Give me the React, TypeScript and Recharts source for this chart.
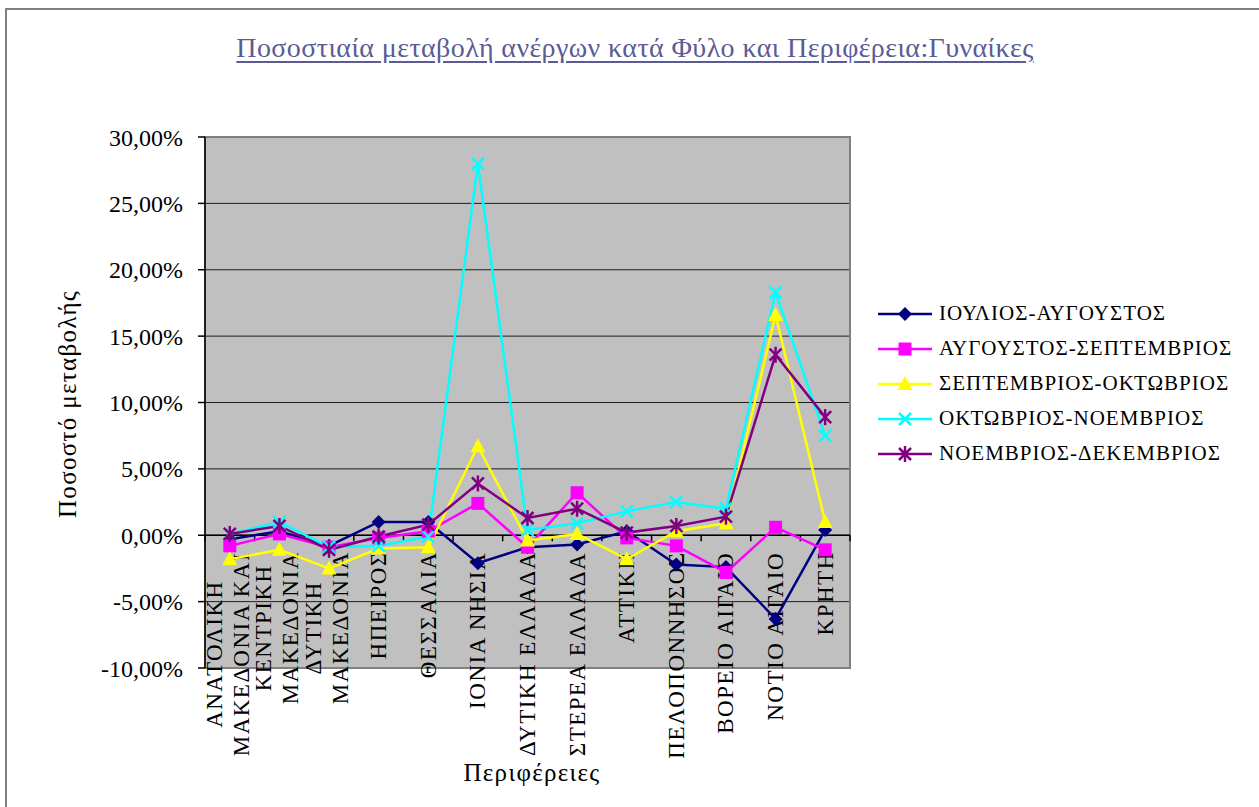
import { LineChart, Line, XAxis, YAxis, CartesianGrid, ReferenceLine, ReferenceArea } from "recharts";

// Regions (label lines as shown on the category axis)
const regions = [
  ["ΑΝΑΤΟΛΙΚΗ", "ΜΑΚΕΔΟΝΙΑ ΚΑΙ"],
  ["ΚΕΝΤΡΙΚΗ", "ΜΑΚΕΔΟΝΙΑ"],
  ["ΔΥΤΙΚΗ", "ΜΑΚΕΔΟΝΙΑ"],
  ["ΗΠΕΙΡΟΣ"],
  ["ΘΕΣΣΑΛΙΑ"],
  ["ΙΟΝΙΑ ΝΗΣΙΑ"],
  ["ΔΥΤΙΚΗ ΕΛΛΑΔΑ"],
  ["ΣΤΕΡΕΑ ΕΛΛΑΔΑ"],
  ["ΑΤΤΙΚΗ"],
  ["ΠΕΛΟΠΟΝΝΗΣΟΣ"],
  ["ΒΟΡΕΙΟ ΑΙΓΑΙΟ"],
  ["ΝΟΤΙΟ ΑΙΓΑΙΟ"],
  ["ΚΡΗΤΗ"],
];

// percent change per region
const julAug = [-0.3, 0.3, -0.8, 1.0, 1.0, -2.1, -0.9, -0.7, 0.3, -2.2, -2.4, -6.3, 0.4];
const augSep = [-0.8, 0.1, -0.9, -0.2, 0.3, 2.4, -0.9, 3.2, -0.2, -0.8, -2.8, 0.6, -1.1];
const sepOct = [-1.8, -1.1, -2.5, -1.0, -0.9, 6.7, -0.4, 0.1, -1.8, 0.3, 0.9, 16.6, 1.0];
const octNov = [0.1, 1.0, -0.9, -0.8, -0.1, 28.0, 0.4, 0.9, 1.8, 2.5, 2.0, 18.3, 7.5];
const novDec = [0.1, 0.7, -1.1, -0.1, 0.8, 3.9, 1.3, 2.0, 0.2, 0.7, 1.4, 13.6, 8.9];

const yTicks = [-10, -5, 0, 5, 10, 15, 20, 25, 30];

const series = [
  { key: "julAug", name: "ΙΟΥΛΙΟΣ-ΑΥΓΟΥΣΤΟΣ", color: "#000080", shape: "diamond" },
  { key: "augSep", name: "ΑΥΓΟΥΣΤΟΣ-ΣΕΠΤΕΜΒΡΙΟΣ", color: "#FF00FF", shape: "square" },
  { key: "sepOct", name: "ΣΕΠΤΕΜΒΡΙΟΣ-ΟΚΤΩΒΡΙΟΣ", color: "#FFFF00", shape: "triangle" },
  { key: "octNov", name: "ΟΚΤΩΒΡΙΟΣ-ΝΟΕΜΒΡΙΟΣ", color: "#00FFFF", shape: "x" },
  { key: "novDec", name: "ΝΟΕΜΒΡΙΟΣ-ΔΕΚΕΜΒΡΙΟΣ", color: "#800080", shape: "star" },
];

const data = regions.map((r, i) => ({
  name: r.join(" "),
  julAug: julAug[i],
  augSep: augSep[i],
  sepOct: sepOct[i],
  octNov: octNov[i],
  novDec: novDec[i],
}));

const FONT = "Liberation Serif";
const CAT_FS = 23;
const CAT_LS = 1.5;

let measureCtx: CanvasRenderingContext2D | null = null;
function textWidth(t: string) {
  if (!measureCtx) measureCtx = document.createElement("canvas").getContext("2d");
  if (!measureCtx) return t.length * CAT_FS * 0.66 + t.length * CAT_LS;
  measureCtx.font = `${CAT_FS}px "${FONT}"`;
  return measureCtx.measureText(t).width + t.length * CAT_LS;
}

function Marker({ cx, cy, shape, color }: { cx: number; cy: number; shape: string; color: string }) {
  if (cx == null || cy == null) return null;
  const s = 7;
  if (shape === "diamond")
    return <polygon points={`${cx},${cy - s} ${cx + s},${cy} ${cx},${cy + s} ${cx - s},${cy}`} fill={color} />;
  if (shape === "square")
    return <rect x={cx - 6.5} y={cy - 6.5} width={13} height={13} fill={color} />;
  if (shape === "triangle")
    return <polygon points={`${cx},${cy - 8} ${cx + 7.5},${cy + 6} ${cx - 7.5},${cy + 6}`} fill={color} />;
  if (shape === "x")
    return (
      <g stroke={color} strokeWidth={2.5}>
        <line x1={cx - 6} y1={cy - 6} x2={cx + 6} y2={cy + 6} />
        <line x1={cx - 6} y1={cy + 6} x2={cx + 6} y2={cy - 6} />
      </g>
    );
  return (
    <g stroke={color} strokeWidth={2.5}>
      <line x1={cx - 6} y1={cy - 6} x2={cx + 6} y2={cy + 6} />
      <line x1={cx - 6} y1={cy + 6} x2={cx + 6} y2={cy - 6} />
      <line x1={cx} y1={cy - 8} x2={cx} y2={cy + 8} />
    </g>
  );
}

// category axis drawn along the zero line, with ticks between categories
function ZeroAxis(props: any) {
  const { x1, x2, y1 } = props;
  const n = regions.length;
  const step = (x2 - x1) / n;
  const top = y1 + 16;
  return (
    <g>
      <line x1={x1} y1={y1} x2={x2} y2={y1} stroke="#000" strokeWidth={1.5} />
      {Array.from({ length: n + 1 }, (_, i) => (
        <line key={i} x1={x1 + i * step} y1={y1} x2={x1 + i * step} y2={y1 + 6} stroke="#000" strokeWidth={1.5} />
      ))}
      {regions.map((lines, i) => {
        const c = x1 + (i + 0.5) * step;
        const block = Math.max(...lines.map(textWidth));
        const mid = top + block / 2;
        return lines.map((t, j) => {
          const lx = c + (j - (lines.length - 1) / 2) * 27 - (lines.length > 1 ? 2 : 0);
          return (
            <text
              key={`${i}-${j}`}
              transform={`translate(${lx},${mid}) rotate(-90)`}
              textAnchor="middle"
              dominantBaseline="central"
              fontSize={CAT_FS}
              letterSpacing={CAT_LS}
              fontFamily={FONT}
              fill="#000"
            >
              {t}
            </text>
          );
        });
      })}
    </g>
  );
}

function LegendBox() {
  return (
    <div style={{ position: "absolute", left: 876, top: 296, fontFamily: FONT, fontSize: 21, letterSpacing: 1, color: "#000" }}>
      {series.map((s) => (
        <div key={s.key} style={{ display: "flex", alignItems: "center", height: 35 }}>
          <svg width={58} height={20} style={{ marginRight: 5 }}>
            <line x1={2} y1={10} x2={56} y2={10} stroke={s.color} strokeWidth={2.5} />
            <Marker cx={29} cy={10} shape={s.shape} color={s.color} />
          </svg>
          <span>{s.name}</span>
        </div>
      ))}
    </div>
  );
}

export default function App() {
  const fmt = (v: number) => `${v.toFixed(2).replace(".", ",")}%`;
  return (
    <div style={{ position: "absolute", left: 0, top: 0, width: 1259, height: 807, overflow: "hidden", background: "#fff", fontFamily: FONT }}>
      <div style={{ position: "absolute", left: 5, top: 8, width: 1400, height: 1000, border: "2px solid #808080" }} />
      <div
        style={{
          position: "absolute", left: 0, top: 32, width: 1270, textAlign: "center",
          fontSize: 28, letterSpacing: 0.4, color: "#5B5B96", textDecoration: "underline", textUnderlineOffset: 4,
        }}
      >
        Ποσοστιαία μεταβολή ανέργων κατά Φύλο και Περιφέρεια:Γυναίκες
      </div>
      <div
        style={{
          position: "absolute", left: 68, top: 404, transform: "translate(-50%, -50%) rotate(-90deg)",
          fontSize: 25, letterSpacing: 1.3, whiteSpace: "nowrap", color: "#000",
        }}
      >
        Ποσοστό μεταβολής
      </div>
      <div
        style={{
          position: "absolute", left: 532, top: 773, transform: "translate(-50%, -50%)",
          fontSize: 25, letterSpacing: 1.3, whiteSpace: "nowrap", color: "#000",
        }}
      >
        Περιφέρειες
      </div>
      <div style={{ position: "absolute", left: 0, top: 0 }}>
        <LineChart width={1259} height={807} data={data} margin={{ top: 137, right: 409, bottom: 139, left: 125 }}>
          <CartesianGrid vertical={false} fill="#C0C0C0" stroke="#000" strokeOpacity={0.85} />
          <ReferenceArea y1={-10} y2={30} fill="none" stroke="#808080" strokeWidth={2} />
          <XAxis dataKey="name" hide scale="band" />
          <YAxis
            domain={[-10, 30]}
            ticks={yTicks}
            tickFormatter={fmt}
            width={80}
            interval={0}
            tickSize={7}
            tickMargin={15}
            axisLine={{ stroke: "#000", strokeWidth: 1.5 }}
            tickLine={{ stroke: "#000", strokeWidth: 1.5 }}
            tick={{ fontSize: 24, fill: "#000", fontFamily: FONT }}
          />
          <ReferenceLine y={0} shape={(p: any) => <ZeroAxis {...p} />} />
          {series.map((s) => (
            <Line
              key={s.key}
              dataKey={s.key}
              name={s.name}
              stroke={s.color}
              strokeWidth={2.5}
              isAnimationActive={false}
              dot={(p: any) => <Marker key={`${s.key}-${p.index}`} cx={p.cx} cy={p.cy} shape={s.shape} color={s.color} />}
              activeDot={false}
            />
          ))}
        </LineChart>
      </div>
      <LegendBox />
    </div>
  );
}
